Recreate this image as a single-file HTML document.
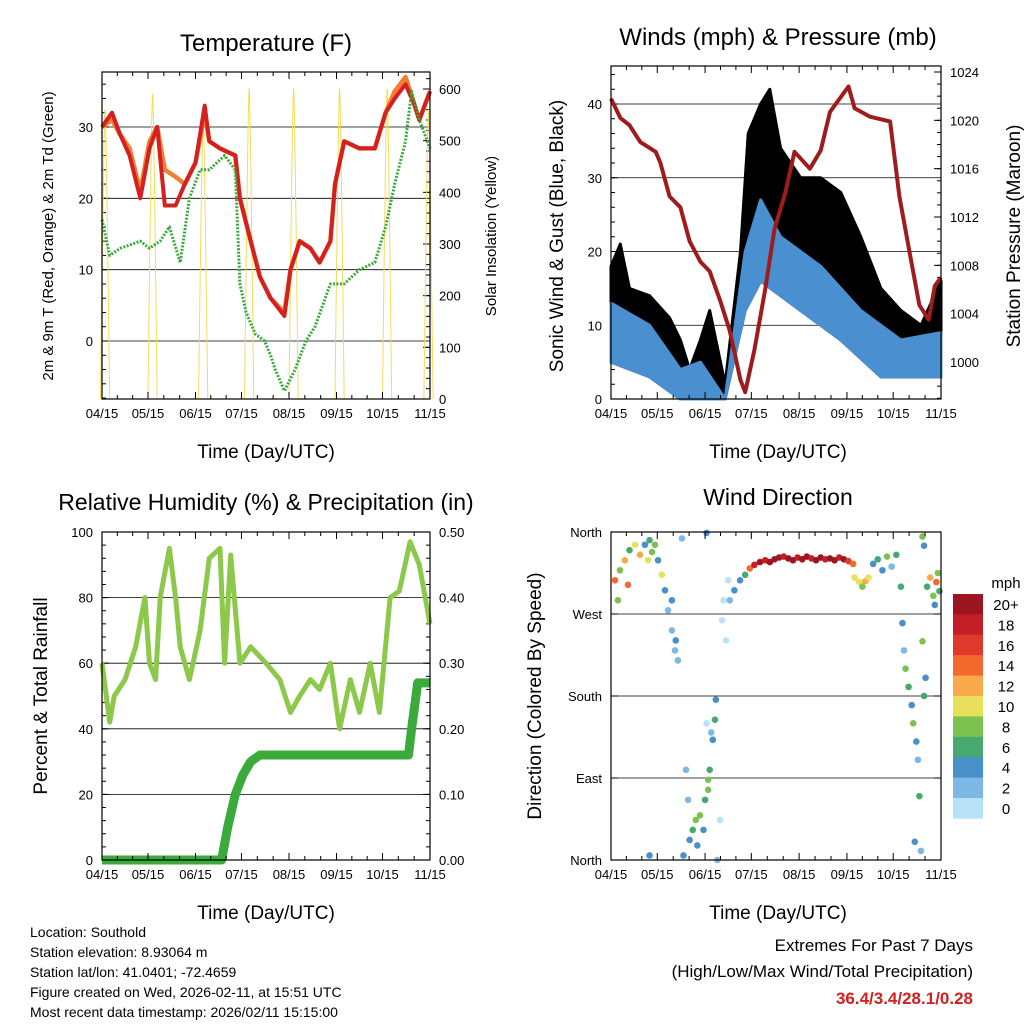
<!DOCTYPE html>
<html><head><meta charset="utf-8">
<style>
html,body{margin:0;padding:0;background:#fff;width:1024px;height:1024px;overflow:hidden}
svg{display:block;font-family:"Liberation Sans",Arial,sans-serif}
</style></head>
<body>
<svg id="c" width="1024" height="1024" viewBox="0 0 1024 1024"></svg>
<script>
// ---------- DATA ----------
const monthTicks=[0,30,61,91,122,153,183,214];
const monthLabels=["04/15","05/15","06/15","07/15","08/15","09/15","10/15","11/15"];
// temperature (day, value)
const tempDays=[0,6.5,11.7,18,25,31,36,41,48,54,61,67,70,77,87,90,97,103,110,119,123,129,136,142,149,152,158,168,178,185,191,198,204,207,214];
const tempRed=[30,32,29,26,20,27,30,19,19,22,25,33,28,27,26,20,14,9,6,3.5,10,14,13,11,14,22,28,27,27,32,34,36,33,31,35];
const tempOrange=[30,31,29,27,21,28,30,24,23,22,25,32,28,27,26,20,14,9,6,4,10,14,13,11,14,22,28,27,27,32,35,37,33,31,35];
const tdDays=[0,5,12,25,31,38,44,51,57,64,70,80,87,90,94,100,106,110,113,119,126,133,139,149,158,168,178,185,191,198,202,207,214];
const tdVals=[17,12,13,14,13,14,16,11,20,24,24,26,24,8,4,1,0,-2,-4,-7,-4,0,2,8,8,10,11,16,22,28,35,31,27];
const solarDays=[2,33,66,96,125,155,186,213];
const solarPeaks=[560,590,540,600,600,600,600,560];
// winds
const presDays=[0,6,12,19,29,32,38,45,51,58,64,71,77,84,87,93,100,106,113,119,129,136,142,154,158,168,181,187,194,200,206,210,214];
const presVals=[1021.8,1020.2,1019.6,1018.2,1017.4,1016.5,1013.7,1012.8,1010,1008.3,1007.5,1005,1002.6,998.5,997.5,1001,1006,1011,1014,1017.4,1016,1017.5,1020.7,1022.8,1021,1020.3,1019.9,1013.7,1008.8,1004.7,1003.5,1006.3,1007];
const gustDays=[0,6,12,25,38,45,51,58,64,74,84,89,97,103,110,123,136,149,162,175,188,201,214];
const gustHigh=[18,21,15,14,11,8,4,8,12,2,20,36,40,42,34,30,30,28,22,15,12,10,16];
const windDays=[0,25,45,58,74,87,97,110,136,162,188,214];
const windHigh=[13,10,4,5,0,20,27,22,18,12,8,9];
const windLowDays=[0,25,45,74,87,97,123,149,175,214];
const windLow=[5,3,0,0,12,16,12,8,3,3];
// RH & precip
const rhDays=[0,5,8,15,22,28,31,35,38,44,48,51,57,64,70,77,80,84,90,97,107,116,123,129,136,142,149,155,162,168,175,181,188,194,201,207,214];
const rhVals=[60,42,50,55,65,80,60,55,80,95,80,65,55,70,92,95,60,93,60,65,60,55,45,50,55,52,60,40,55,45,60,45,80,82,97,90,72];
const prDays=[0,78,82,87,92,97,103,200,202,206,214];
const prVals=[0,0,0.05,0.1,0.13,0.15,0.16,0.16,0.2,0.27,0.27];
// wind direction points
const dirDays=[2.6,5.8,9,12,15.6,18.8,22,25,28.5,30.5,33,35,4.5,11,24,26.6,37,39.5,41.5,43.4,39.5,42,46,47,51,53,55,57.7,61,63,64,66,68,67.4,63,60,56,48.6,50,62,72,74.6,77,80,83.7,87,76,73,70.7,69,90,93,96.6,100,103,106,109,112,115,118,121,124,127,130,133,136,139,142,145,148,151,154,157,158,161,163,165,167,170,173,176,179,182,185,188,189,190,191,193,195,196,198,199,200,197,201,203,202,204,202,203,205,207,209,211,213,210,212,62,65,25];
const dirDeg=[307,318,329,340,346,335,346,351,346,329,313,296,285,302,329,338,274,252,230,219,285,241,353,5,22,33,44,49,66,77,99,132,176,154,88,33,16,99,66,359,263,241,285,296,307,313,307,285,44,0,320,324,327,329,327,330,332,333,331,329,332,330,333,331,329,332,330,331,329,332,330,328,325,310,305,300,306,310,325,330,318,333,322,335,300,260,230,210,190,170,150,130,110,70,20,10,180,240,200,355,345,300,310,290,305,295,280,315,150,140,5];
const dirSpeed=[14,8,12,6,10,12,4,6,8,4,10,4,8,14,10,8,2,2,2,2,4,4,2,4,4,6,8,8,6,8,6,4,4,6,8,4,4,2,2,4,0,0,2,4,4,6,0,0,0,2,14,18,20,18,20,20,20,18,20,20,18,20,20,18,20,20,18,20,20,18,20,16,14,10,10,8,12,10,4,6,4,8,2,6,6,4,2,8,6,4,8,4,2,6,4,2,6,8,4,8,4,6,12,8,14,6,4,8,0,2,4];
const binLabels=["20+","18","16","14","12","10","8","6","4","2","0"];
const binColors=["#9b1620","#c41e26","#e03a2c","#f26a2e","#f9a94a","#e8e05a","#7cc250","#47a870","#4a90c8","#7db8e6","#b8e2f8"];

// ---------- helpers ----------
const NS="http://www.w3.org/2000/svg";
const svg=document.getElementById('c');
function mk(tag,attrs,parent){const e=document.createElementNS(NS,tag);for(const k in attrs)e.setAttribute(k,attrs[k]);(parent||svg).appendChild(e);return e;}
function txt(s,x,y,size,anchor,parent,extra){const t=mk('text',Object.assign({x:x,y:y,'font-size':size,'text-anchor':anchor||'middle',fill:'#000'},extra||{}),parent);t.textContent=s;return t;}
function lin(d0,d1,p0,p1){return v=>p0+(v-d0)*(p1-p0)/(d1-d0);}
function pathFrom(xs,ys,fx,fy){return xs.map((d,i)=>(i?'L':'M')+fx(d).toFixed(1)+','+fy(ys[i]).toFixed(1)).join('');}

function frame(g,x0,x1,y0,y1){
  mk('rect',{x:x0,y:y0,width:x1-x0,height:y1-y0,fill:'none',stroke:'#000','stroke-width':1.2},g);
}
function xAxis(g,fx,y0,y1,name){
  const ax=mk('g',{},g);
  
  
  monthTicks.forEach((d,i)=>{
    const x=fx(d);
    mk('line',{x1:x,x2:x,y1:y1,y2:y1-7,stroke:'#000'},ax);
    mk('line',{x1:x,x2:x,y1:y0,y2:y0+7,stroke:'#000'},ax);
    txt(monthLabels[i],x,y1+19,13,'middle',ax);
    if(i<monthTicks.length-1){for(let k=1;k<3;k++){const xm=fx(d+(monthTicks[i+1]-d)*k/3);mk('line',{x1:xm,x2:xm,y1:y1,y2:y1-4,stroke:'#000'},ax);mk('line',{x1:xm,x2:xm,y1:y0,y2:y0+4,stroke:'#000'},ax);}}
  });
}
function yTicks(g,fy,vals,labels,x0,x1,side,grid,minorStep,range){
  vals.forEach((v,i)=>{
    const y=fy(v);
    if(side==='left'){mk('line',{x1:x0,x2:x0+7,y1:y,y2:y,stroke:'#000'},g);txt(labels[i],x0-9,y+5,13,'end',g);}
    else{mk('line',{x1:x1,x2:x1-7,y1:y,y2:y,stroke:'#000'},g);txt(labels[i],x1+9,y+5,13,'start',g);}
    if(grid)mk('line',{x1:x0,x2:x1,y1:y,y2:y,stroke:'#000','stroke-width':0.8},g);
  });
  if(minorStep){for(let v=range[0];v<=range[1]+1e-9;v+=minorStep){const y=fy(v);
    if(side==='left')mk('line',{x1:x0,x2:x0+4,y1:y,y2:y,stroke:'#000'},g);else mk('line',{x1:x1,x2:x1-4,y1:y,y2:y,stroke:'#000'},g);}}
}

// ---------- Panel 1: Temperature ----------
(function(){
  const g=mk('g',{});
  const X0=102,X1=430,Y0=72,Y1=399;
  const fx=lin(0,214,X0,X1), fy=lin(0,30,341,127), fs=lin(0,600,399,89);
  txt('Temperature (F)',266,51,24,'middle',g);
  yTicks(g,fy,[0,10,20,30],['0','10','20','30'],X0,X1,'left',true,2,[-8,36]);
  yTicks(g,fs,[0,100,200,300,400,500,600],['0','100','200','300','400','500','600'],X0,X1,'right',false,20,[0,620]);
  // solar
  const sg=mk('g',{},g);
  solarDays.forEach((d,i)=>{
    const p=mk('path',{d:'M'+fx(d-3)+','+fs(0)+'Q'+fx(d-0.6)+','+fs(solarPeaks[i]*1.02)+' '+fx(d)+','+fs(solarPeaks[i])+'Q'+fx(d+0.6)+','+fs(solarPeaks[i]*1.02)+' '+fx(d+3)+','+fs(0),fill:'none',stroke:'#f4dc5a','stroke-width':1},sg);
    
  });
  const po=mk('path',{d:pathFrom(tempDays,tempOrange,fx,fy),fill:'none',stroke:'#f08030','stroke-width':4.5,'stroke-linejoin':'round'},g);
  
  const pr=mk('path',{d:pathFrom(tempDays,tempRed,fx,fy),fill:'none',stroke:'#d42020','stroke-width':4,'stroke-linejoin':'round'},g);
  
  const pg=mk('path',{d:pathFrom(tdDays,tdVals,fx,fy),fill:'none',stroke:'#3aaa3a','stroke-width':3,'stroke-dasharray':'2 1.5','stroke-linejoin':'round'},g);
  
  frame(g,X0,X1,Y0,Y1);
  xAxis(g,fx,Y0,Y1,'temperature-x-axis');
  txt('Time (Day/UTC)',266,458,19,'middle',g);
  txt('2m & 9m T (Red, Orange) & 2m Td (Green)',0,0,15,'middle',g,{transform:'translate(53,236) rotate(-90)',});
  txt('Solar Insolation (Yellow)',0,0,15,'middle',g,{transform:'translate(496,236) rotate(-90)',});
})();

// ---------- Panel 2: Winds ----------
(function(){
  const g=mk('g',{});
  const X0=611,X1=941,Y0=66,Y1=399;
  const fx=lin(0,214,X0,X1), fy=lin(0,40,399,104), fp=lin(1000,1024,362,72);
  txt('Winds (mph) & Pressure (mb)',778,45,24,'middle',g);
  yTicks(g,fy,[0,10,20,30,40],['0','10','20','30','40'],X0,X1,'left',true,2,[0,44]);
  yTicks(g,fp,[1000,1004,1008,1012,1016,1020,1024],['1000','1004','1008','1012','1016','1020','1024'],X0,X1,'right',false,1,[997,1024]);
  // gust band
  const up=gustDays.map((d,i)=>fx(d).toFixed(1)+','+fy(gustHigh[i]).toFixed(1));
  const lo=windLowDays.map((d,i)=>fx(d).toFixed(1)+','+fy(windLow[i]).toFixed(1)).reverse();
  const gb=mk('polygon',{points:up.concat(lo).join(' '),fill:'#000',stroke:'#000','stroke-width':3,'stroke-linejoin':'round'},g);
  
  const wu=windDays.map((d,i)=>fx(d).toFixed(1)+','+fy(windHigh[i]).toFixed(1));
  const wb=mk('polygon',{points:wu.concat(lo).join(' '),fill:'#4a90d0',stroke:'#4a90d0','stroke-width':3,'stroke-linejoin':'round'},g);
  
  const pp=mk('path',{d:pathFrom(presDays,presVals,fx,fp),fill:'none',stroke:'#a01c1c','stroke-width':4,'stroke-linejoin':'round'},g);
  
  frame(g,X0,X1,Y0,Y1);
  xAxis(g,fx,Y0,Y1,'winds-x-axis');
  txt('Time (Day/UTC)',778,458,19,'middle',g);
  txt('Sonic Wind & Gust (Blue, Black)',0,0,19,'middle',g,{transform:'translate(563,236) rotate(-90)',});
  txt('Station Pressure (Maroon)',0,0,19,'middle',g,{transform:'translate(1020,236) rotate(-90)',});
})();

// ---------- Panel 3: RH ----------
(function(){
  const g=mk('g',{});
  const X0=102,X1=430,Y0=532,Y1=860;
  const fx=lin(0,214,X0,X1), fy=lin(0,100,860,532), fr=lin(0,0.5,860,532);
  txt('Relative Humidity (%) & Precipitation (in)',266,510,23,'middle',g);
  yTicks(g,fy,[0,20,40,60,80,100],['0','20','40','60','80','100'],X0,X1,'left',true,4,[0,100]);
  yTicks(g,fr,[0,0.1,0.2,0.3,0.4,0.5],['0.00','0.10','0.20','0.30','0.40','0.50'],X0,X1,'right',false,0.02,[0,0.5]);
  const rl=mk('path',{d:pathFrom(rhDays,rhVals,fx,fy),fill:'none',stroke:'#8cc84a','stroke-width':5,'stroke-linejoin':'round'},g);
  
  const pl=mk('path',{d:pathFrom(prDays,prVals,fx,fr),fill:'none',stroke:'#3aaa3a','stroke-width':9,'stroke-linejoin':'round'},g);
  
  frame(g,X0,X1,Y0,Y1);
  xAxis(g,fx,Y0,Y1,'humidity-x-axis');
  txt('Time (Day/UTC)',266,919,19,'middle',g);
  txt('Percent & Total Rainfall',0,0,19,'middle',g,{transform:'translate(47,696) rotate(-90)',});
})();

// ---------- Panel 4: Wind direction ----------
(function(){
  const g=mk('g',{});
  const X0=611,X1=941,Y0=532,Y1=860;
  const fx=lin(0,214,X0,X1), fy=lin(0,360,860,532);
  txt('Wind Direction',778,505,23,'middle',g);
  yTicks(g,fy,[0,90,180,270,360],['North','East','South','West','North'],X0,X1,'left',false,0,[0,0]);
  [90,180,270].forEach(v=>mk('line',{x1:X0,x2:X1,y1:fy(v),y2:fy(v),stroke:'#000','stroke-width':0.8},g));
  [0,90,180,270,360].forEach(v=>mk('line',{x1:X1,x2:X1-7,y1:fy(v),y2:fy(v),stroke:'#000'},g));
  const pg=mk('g',{},g);
  dirDays.forEach((d,i)=>{
    const b=Math.min(10,Math.round(dirSpeed[i]/2));
    const c=mk('circle',{cx:fx(d),cy:fy(dirDeg[i]),r:3.3,fill:binColors[10-b]},pg);
    
    
  });
  frame(g,X0,X1,Y0,Y1);
  xAxis(g,fx,Y0,Y1,'direction-x-axis');
  txt('Time (Day/UTC)',778,919,19,'middle',g);
  txt('Direction (Colored By Speed)',0,0,19,'middle',g,{transform:'translate(541,696) rotate(-90)',});
  // colorbar
  const lg=mk('g',{},g);
  txt('mph',1006,588,15,'middle',lg);
  binLabels.forEach((l,i)=>{
    const r=mk('rect',{x:953,y:594+i*20.4,width:30,height:20.8,fill:binColors[i]},lg);
    
    txt(l,1006,594+i*20.4+16,15,'middle',lg);
  });
})();

// ---------- Footer ----------
(function(){
  const g=mk('g',{});
  ['Location: Southold','Station elevation: 8.93064 m','Station lat/lon: 41.0401; -72.4659','Figure created on Wed, 2026-02-11, at 15:51 UTC','Most recent data timestamp: 2026/02/11 15:15:00']
   .forEach((s,i)=>txt(s,30,937+i*20,14,'start',g));
  const e=mk('g',{});
  txt('Extremes For Past 7 Days',973,951,17,'end',e);
  txt('(High/Low/Max Wind/Total Precipitation)',973,977,17,'end',e);
  txt('36.4/3.4/28.1/0.28',973,1004,17,'end',e,{fill:'#d02020','font-weight':'bold'});
})();
</script>
</body></html>
